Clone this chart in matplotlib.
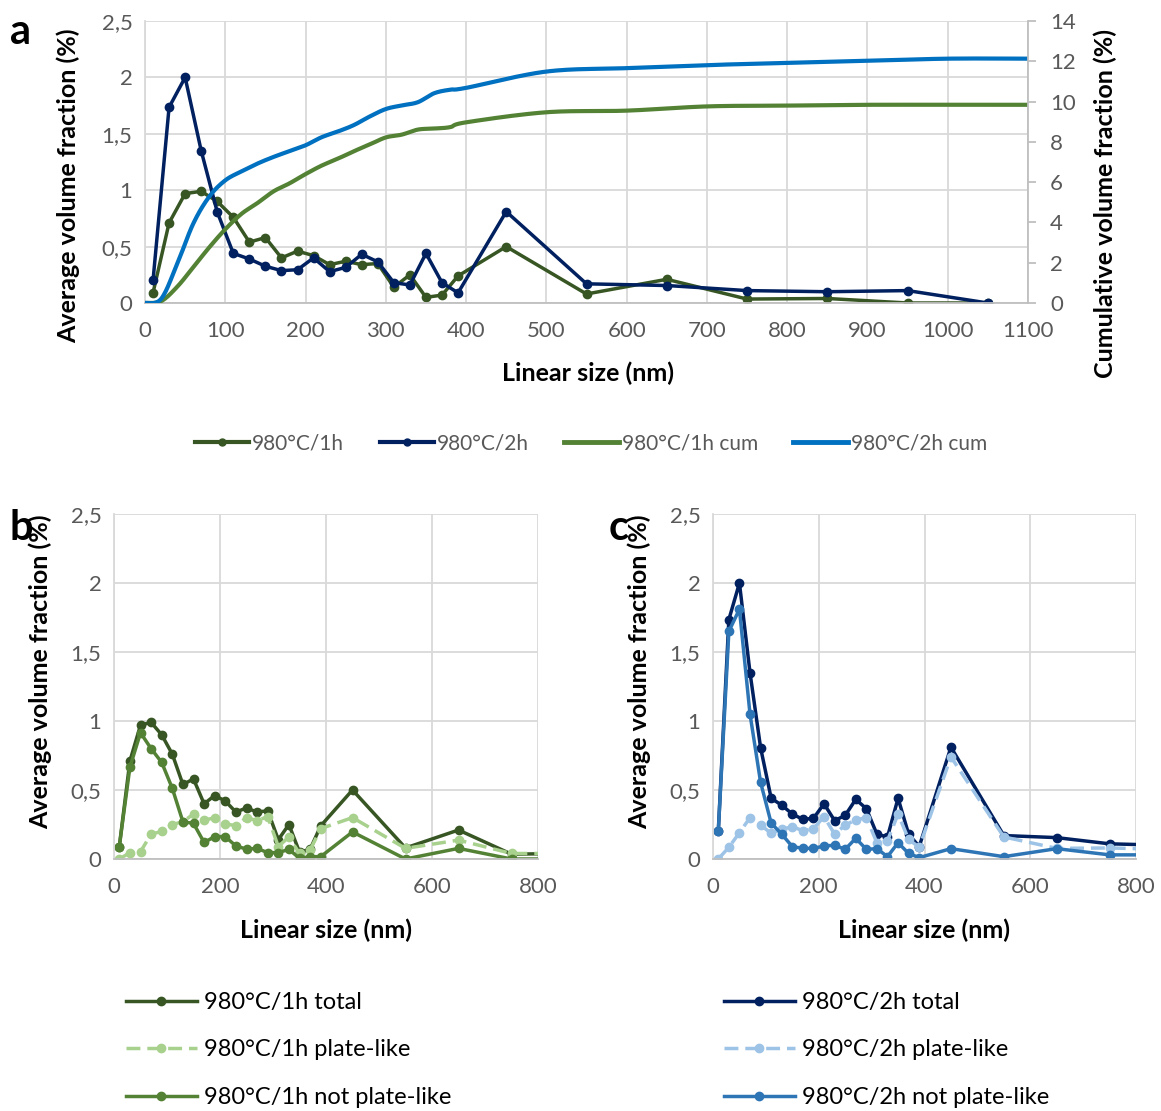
import numpy as np
import matplotlib
matplotlib.use("Agg")
import matplotlib.pyplot as plt
from matplotlib.ticker import FuncFormatter, MultipleLocator
from matplotlib.lines import Line2D

plt.rcParams['font.family'] = ['Lato', 'DejaVu Sans']

# bin centres (nm)
x_bins = [10, 30, 50, 70, 90, 110, 130, 150, 170, 190, 210, 230, 250, 270, 290,
          310, 330, 350, 370, 390, 450, 550, 650, 750, 850, 950, 1050]

# 980°C/1h (%)
vf_1h_total = [0.09, 0.71, 0.97, 0.99, 0.90, 0.76, 0.54, 0.58, 0.40, 0.46, 0.42, 0.34, 0.37, 0.34, 0.35,
               0.14, 0.25, 0.05, 0.07, 0.24, 0.50, 0.08, 0.21, 0.035, 0.04, 0.0, 0.0]
vf_1h_plate = [0.0, 0.046, 0.053, 0.18, 0.20, 0.25, 0.27, 0.326, 0.28, 0.30, 0.254, 0.242, 0.30, 0.278, 0.307,
               0.09, 0.16, 0.04, 0.065, 0.22, 0.30, 0.077, 0.137, 0.04, 0.04, 0.0, 0.0]
vf_1h_not = [0.09, 0.665, 0.915, 0.80, 0.70, 0.512, 0.27, 0.258, 0.12, 0.162, 0.162, 0.094, 0.072, 0.077, 0.046,
             0.046, 0.07, 0.005, 0.017, 0.017, 0.196, 0.0, 0.077, 0.0, 0.0, 0.0, 0.0]

# 980°C/2h (%)
vf_2h_total = [0.20, 1.735, 2.00, 1.35, 0.807, 0.44, 0.39, 0.326, 0.287, 0.295, 0.40, 0.278, 0.316, 0.432, 0.365,
               0.18, 0.16, 0.44, 0.18, 0.09, 0.81, 0.17, 0.155, 0.11, 0.10, 0.11, 0.0]
vf_2h_plate = [0.0, 0.085, 0.19, 0.30, 0.246, 0.186, 0.215, 0.234, 0.205, 0.22, 0.307, 0.18, 0.246, 0.283, 0.30,
               0.118, 0.133, 0.326, 0.142, 0.085, 0.74, 0.16, 0.077, 0.08, 0.07, 0.08, 0.0]
vf_2h_not = [0.20, 1.65, 1.81, 1.05, 0.556, 0.26, 0.18, 0.09, 0.077, 0.077, 0.094, 0.10, 0.07, 0.15, 0.07,
             0.075, 0.017, 0.118, 0.04, 0.01, 0.075, 0.017, 0.075, 0.03, 0.03, 0.03, 0.0]

# cumulative curves, at bin upper edges (nm)
x_cum = [0, 20, 40, 60, 80, 100, 120, 140, 160, 180, 200, 220, 240, 260, 280, 300,
         320, 340, 360, 380, 400, 500, 600, 700, 800, 900, 1000, 1100]
cum_1h = [0, 0.09, 0.80, 1.77, 2.76, 3.66, 4.42, 4.96, 5.54, 5.94, 6.40, 6.82, 7.16, 7.53, 7.87, 8.22,
          8.36, 8.61, 8.66, 8.73, 8.97, 9.47, 9.55, 9.76, 9.80, 9.84, 9.84, 9.84]
cum_2h = [0, 0.20, 1.93, 3.93, 5.28, 6.09, 6.53, 6.92, 7.25, 7.54, 7.83, 8.23, 8.51, 8.83, 9.26, 9.63,
          9.81, 9.97, 10.41, 10.59, 10.68, 11.49, 11.66, 11.81, 11.92, 12.02, 12.13, 12.13]

C_1H = '#375623'
C_2H = '#002060'
C_1H_CUM = '#548235'
C_2H_CUM = '#0070C0'
C_1H_PLATE = '#A9D18E'
C_2H_PLATE = '#9DC3E6'
C_1H_NOT = '#548235'
C_2H_NOT = '#2E75B6'
GRID = '#D9D9D9'
TICK = '#595959'

W, H = 1161, 1111
TICK_FS = 16
TITLE_FS = 18


def smooth(x, y, sx, sy, n=24):
    """Excel-style smoothed line (bezier through the points)."""
    P = np.column_stack([np.asarray(x, float) * sx, np.asarray(y, float) * sy])
    P = np.vstack([P[0], P, P[-1]])
    t = np.linspace(0, 1, n)[:, None]
    segs = []
    for i in range(1, len(P) - 2):
        p0, p1, p2, p3 = P[i - 1], P[i], P[i + 1], P[i + 2]
        c1 = p1 + (p2 - p0) / 6
        c2 = p2 - (p3 - p1) / 6
        segs.append((1 - t) ** 3 * p1 + 3 * (1 - t) ** 2 * t * c1 + 3 * (1 - t) * t ** 2 * c2 + t ** 3 * p2)
    pts = np.vstack(segs)
    return pts[:, 0] / sx, pts[:, 1] / sy


def comma(v, pos):
    return ('%g' % v).replace('.', ',')


def style_axes(ax, xmax, xstep):
    ax.set_xlim(0, xmax)
    ax.set_ylim(0, 2.5)
    ax.xaxis.set_major_locator(MultipleLocator(xstep))
    ax.yaxis.set_major_locator(MultipleLocator(0.5))
    ax.yaxis.set_major_formatter(FuncFormatter(comma))
    ax.grid(True, color=GRID, lw=1.3)
    ax.set_axisbelow(True)
    for s in ['top', 'right']:
        ax.spines[s].set_visible(False)
    ax.spines['left'].set_color(GRID)
    ax.spines['bottom'].set_color('#BFBFBF')
    ax.spines['left'].set_linewidth(1.3)
    ax.spines['bottom'].set_linewidth(1.3)
    ax.tick_params(length=0, labelsize=TICK_FS, labelcolor=TICK)
    ax.tick_params(axis='x', pad=13)
    ax.tick_params(axis='y', pad=9)


def px_axes(fig, l, r, t, b):
    return fig.add_axes([l / W, 1 - b / H, (r - l) / W, (b - t) / H])


fig = plt.figure(figsize=(W / 100, H / 100), dpi=100)

# ---- panel a
ax = px_axes(fig, 145, 1028, 21, 303)
style_axes(ax, 1100, 100)
mk = dict(marker='o', ms=6, lw=2.5)
ax.plot(x_bins, vf_1h_total, color=C_1H, label='980°C/1h', **mk)
ax.plot(x_bins, vf_2h_total, color=C_2H, label='980°C/2h', **mk)

ax2 = ax.twinx()
ax2.set_ylim(0, 14)
ax2.yaxis.set_major_locator(MultipleLocator(2))
for s in ['top', 'left', 'bottom']:
    ax2.spines[s].set_visible(False)
ax2.spines['right'].set_color('#BFBFBF')
ax2.spines['right'].set_linewidth(1.3)
ax2.tick_params(length=6, width=1.3, color='#BFBFBF', labelsize=TICK_FS, labelcolor=TICK, pad=10)
sx, sy = 883 / 1100, 282 / 14
xs, ys = smooth(x_cum, cum_1h, sx, sy)
ax2.plot(xs, ys, color=C_1H_CUM, lw=3, label='980°C/1h cum', solid_capstyle='butt')
xs, ys = smooth(x_cum, cum_2h, sx, sy)
ax2.plot(xs, ys, color=C_2H_CUM, lw=3, label='980°C/2h cum', solid_capstyle='butt')

fig.text(10 / W, 1 - 32 / H, 'a', fontsize=30, fontweight='bold', va='center', ha='left')
fig.text(68 / W, 1 - 186 / H, 'Average volume fraction (%)', rotation=90, fontsize=TITLE_FS,
         fontweight='bold', ha='center', va='center')
fig.text(1105 / W, 1 - 204 / H, 'Cumulative volume fraction (%)', rotation=90, fontsize=TITLE_FS,
         fontweight='bold', ha='center', va='center')
fig.text(588 / W, 1 - 373 / H, 'Linear size (nm)', fontsize=TITLE_FS, fontweight='bold',
         ha='center', va='center')

handles = [Line2D([], [], color=C_1H, marker='o', ms=5, lw=3),
           Line2D([], [], color=C_2H, marker='o', ms=5, lw=3),
           Line2D([], [], color=C_1H_CUM, lw=3.5),
           Line2D([], [], color=C_2H_CUM, lw=3.5)]
labels = ['980°C/1h', '980°C/2h', '980°C/1h cum', '980°C/2h cum']
fig.legend(handles, labels, loc='center', bbox_to_anchor=(591 / W, 1 - 443 / H), ncol=4,
           frameon=False, fontsize=15, handlelength=2.6, handletextpad=0.15, columnspacing=1.7,
           labelcolor=TICK)


# ---- panels b and c
def panel(l, r, series, letter, leg_x):
    axp = px_axes(fig, l, r, 514, 859)
    style_axes(axp, 800, 200)
    hs = []
    for y, color, ls, lab in series:
        line, = axp.plot(x_bins, y, color=color, ls=ls, marker='o', ms=6, lw=2.5, label=lab)
        if ls != '-':
            line.set_dashes([4, 2])
        hs.append(line)
    cx = (l + r) / 2
    fig.text((l - 104) / W, 1 - 528 / H, letter, fontsize=30, fontweight='bold', va='center', ha='left')
    fig.text((l - 74) / W, 1 - 672 / H, 'Average volume fraction (%)', rotation=90, fontsize=TITLE_FS,
             fontweight='bold', ha='center', va='center')
    fig.text(cx / W, 1 - 930 / H, 'Linear size (nm)', fontsize=TITLE_FS, fontweight='bold',
             ha='center', va='center')
    fig.legend(hs, [s[3] for s in series], loc='upper left', bbox_to_anchor=(leg_x / W, 1 - 992 / H),
               frameon=False, fontsize=17, handlelength=3.0, handletextpad=0.3, labelspacing=1.12,
               borderpad=0, borderaxespad=0)


panel(114, 538, [(vf_1h_total, C_1H, '-', '980°C/1h total'),
                 (vf_1h_plate, C_1H_PLATE, '--', '980°C/1h plate-like'),
                 (vf_1h_not, C_1H_NOT, '-', '980°C/1h not plate-like')], 'b', 126)
panel(713, 1136, [(vf_2h_total, C_2H, '-', '980°C/2h total'),
                  (vf_2h_plate, C_2H_PLATE, '--', '980°C/2h plate-like'),
                  (vf_2h_not, C_2H_NOT, '-', '980°C/2h not plate-like')], 'c', 724)

fig.savefig('out.png', dpi=100)
